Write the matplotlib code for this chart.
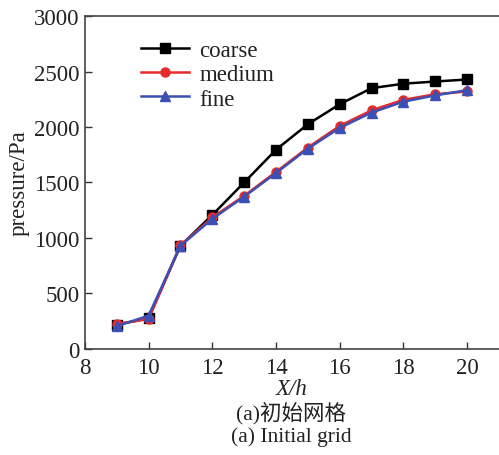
import matplotlib
matplotlib.use('Agg')
import matplotlib.pyplot as plt

# data
x_h = [9, 10, 11, 12, 13, 14, 15, 16, 17, 18, 19, 20]
coarse = [220, 275, 930, 1207, 1500, 1795, 2025, 2205, 2350, 2390, 2410, 2428]
medium = [225, 270, 935, 1185, 1380, 1595, 1815, 2010, 2150, 2245, 2295, 2320]
fine = [205, 300, 930, 1172, 1372, 1585, 1805, 1992, 2130, 2228, 2285, 2332]
y_ticks = [0, 500, 1000, 1500, 2000, 2500, 3000]
x_ticks = [8, 10, 12, 14, 16, 18, 20]

plt.rcParams['font.family'] = ['Liberation Serif', 'Noto Sans CJK SC']

fig = plt.figure(figsize=(4.99, 4.56), dpi=100)
ax = fig.add_axes([0.170, 0.2325, 0.83, 0.7302])

ax.plot(x_h, coarse, color='black', marker='s', markersize=6.5, linewidth=1.8, label='coarse')
ax.plot(x_h, medium, color='#e52b2b', marker='o', markersize=6.5, linewidth=1.8, label='medium')
ax.plot(x_h, fine, color='#3c4fb4', marker='^', markersize=6.5, linewidth=1.8, label='fine')

ax.set_xlim(8, 21)
ax.set_ylim(0, 3000)
ax.set_xticks(x_ticks)
ax.set_yticks(y_ticks)
ax.tick_params(direction='in', length=5, width=1, labelsize=16.5, pad=4, colors='#333333', labelcolor='#222222')
ax.tick_params(axis='x', pad=6)

for side in ['left', 'bottom', 'top']:
    ax.spines[side].set_color('#444444')
    ax.spines[side].set_linewidth(1.2)
ax.spines['right'].set_visible(False)

ax.set_ylabel('pressure/Pa', fontsize=16.5, labelpad=3, color='#222222')
ax.set_xlabel('X/h', fontsize=16.5, fontstyle='italic', labelpad=0, color='#222222')

leg = ax.legend(loc='upper left', bbox_to_anchor=(0.085, 0.99), frameon=False, fontsize=16.5,
                handlelength=2.1, handletextpad=0.45, labelspacing=0.14)
for t in leg.get_texts():
    t.set_color('#222222')

fig.text(0.583, 0.093, '(a)初始网格', ha='center', va='center', fontsize=15.5, color='#222222')
fig.text(0.583, 0.041, '(a) Initial grid', ha='center', va='center', fontsize=15.5, color='#222222')

fig.savefig('out.png', dpi=100)
plt.close(fig)
